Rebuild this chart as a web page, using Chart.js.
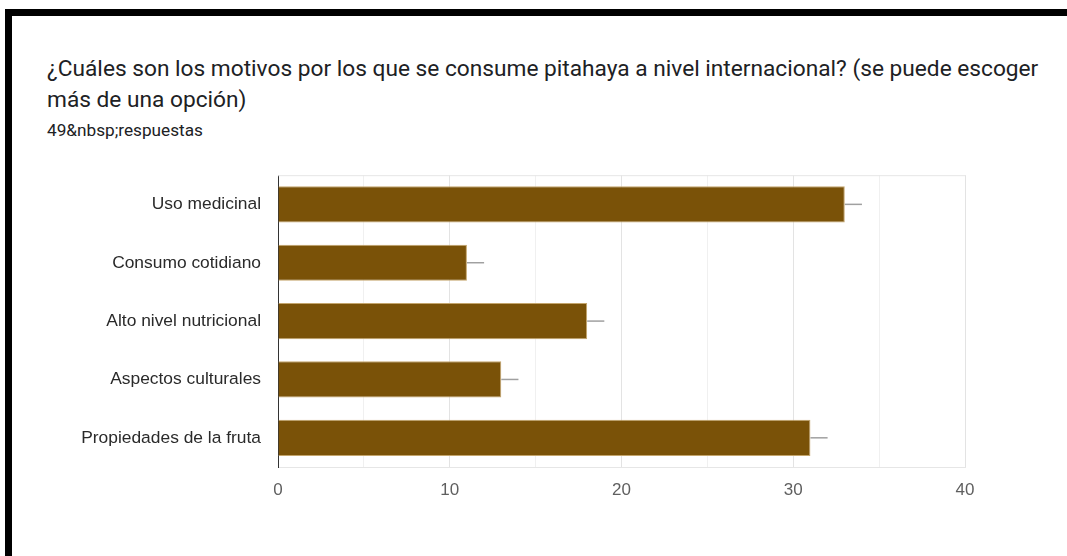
<!DOCTYPE html>
<html>
<head>
<meta charset="utf-8">
<script src="https://cdn.jsdelivr.net/npm/chart.js@4/dist/chart.umd.min.js"></script>
<style>
  html, body { margin:0; padding:0; background:#fff; overflow:hidden; }
  body { width:1067px; height:556px; position:relative; }
  #topBar { position:absolute; left:5px; top:9px; width:1062px; height:7px; background:#000; }
  #leftBar { position:absolute; left:5px; top:9px; width:7px; height:547px; background:#000; }
  #title { position:absolute; left:47px; top:53px; font-family:Roboto, sans-serif; font-size:22.7px; line-height:31px; color:#202124; white-space:nowrap; }
  #sub { position:absolute; left:47px; top:120px; font-family:Roboto, sans-serif; font-size:17.2px; color:#202124; white-space:nowrap; }
  #wrap { position:absolute; left:0; top:146px; width:1067px; height:410px; }
</style>
</head>
<body>
<div id="topBar"></div>
<div id="leftBar"></div>
<div id="title">¿Cuáles son los motivos por los que se consume pitahaya a nivel internacional? (se puede escoger<br>más de una opción)</div>
<div id="sub">49&amp;nbsp;respuestas</div>
<div id="wrap"><canvas id="chart"></canvas></div>

<script>
const categories = ["Uso medicinal","Consumo cotidiano","Alto nivel nutricional","Aspectos culturales","Propiedades de la fruta"];
const counts = [33, 11, 18, 13, 31];
const xTicks = [0, 10, 20, 30, 40];

// little grey whisker after each bar, one unit long
const whiskers = {
  id:"whiskers",
  afterDatasetsDraw(chart){
    const ctx = chart.ctx;
    const xs = chart.scales.x;
    const meta = chart.getDatasetMeta(0);
    ctx.save();
    ctx.strokeStyle = "#a0a0a0";
    ctx.lineWidth = 1.5;
    meta.data.forEach((bar, i) => {
      ctx.beginPath();
      ctx.moveTo(bar.x, bar.y);
      ctx.lineTo(xs.getPixelForValue(counts[i] + 1), bar.y);
      ctx.stroke();
    });
    ctx.restore();
  }
};

// light frame on top of the plot area
const frame = {
  id:"frame",
  beforeDatasetsDraw(chart){
    const a = chart.chartArea, ctx = chart.ctx;
    ctx.save();
    ctx.strokeStyle = "#e6e6e6";
    ctx.lineWidth = 1;
    ctx.beginPath();
    ctx.moveTo(a.left, a.top + 0.5);
    ctx.lineTo(a.right, a.top + 0.5);
    ctx.stroke();
    ctx.restore();
  }
};

new Chart(document.getElementById("chart"), {
  type:"bar",
  data:{
    labels:categories,
    datasets:[{
      data:counts,
      backgroundColor:"#7a5208",
      borderColor:"#c4a56c",
      borderWidth:1,
      borderSkipped:"start",
      categoryPercentage:1,
      barPercentage:0.62
    }]
  },
  options:{
    indexAxis:"y",
    responsive:true,
    maintainAspectRatio:false,
    animation:false,
    layout:{ padding:{ top:10, right:102, bottom:49, left:0 } },
    plugins:{ legend:{display:false}, tooltip:{enabled:false} },
    scales:{
      x:{
        min:0, max:40,
        ticks:{
          stepSize:5,
          padding:13,
          color:"#5f5f5f",
          font:{ family:"'Liberation Sans', Arial, sans-serif", size:17 },
          callback:v => xTicks.includes(v) ? v : ""
        },
        grid:{
          drawTicks:false,
          color:c => (c.tick && c.tick.value % 10 === 0) ? "#e3e3e3" : "#f0f0f0"
        },
        border:{ color:"#e6e6e6" },
        afterFit:s => { s.height = 40; }
      },
      y:{
        ticks:{
          padding:17,
          color:"#2a2a2a",
          font:{ family:"'Liberation Sans', Arial, sans-serif", size:17.4, lineHeight:1.4 }
        },
        grid:{ display:false, drawTicks:false },
        border:{ color:"#333", width:1 },
        afterFit:s => { s.width = 278; }
      }
    }
  },
  plugins:[frame, whiskers]
});
</script>
</body>
</html>
